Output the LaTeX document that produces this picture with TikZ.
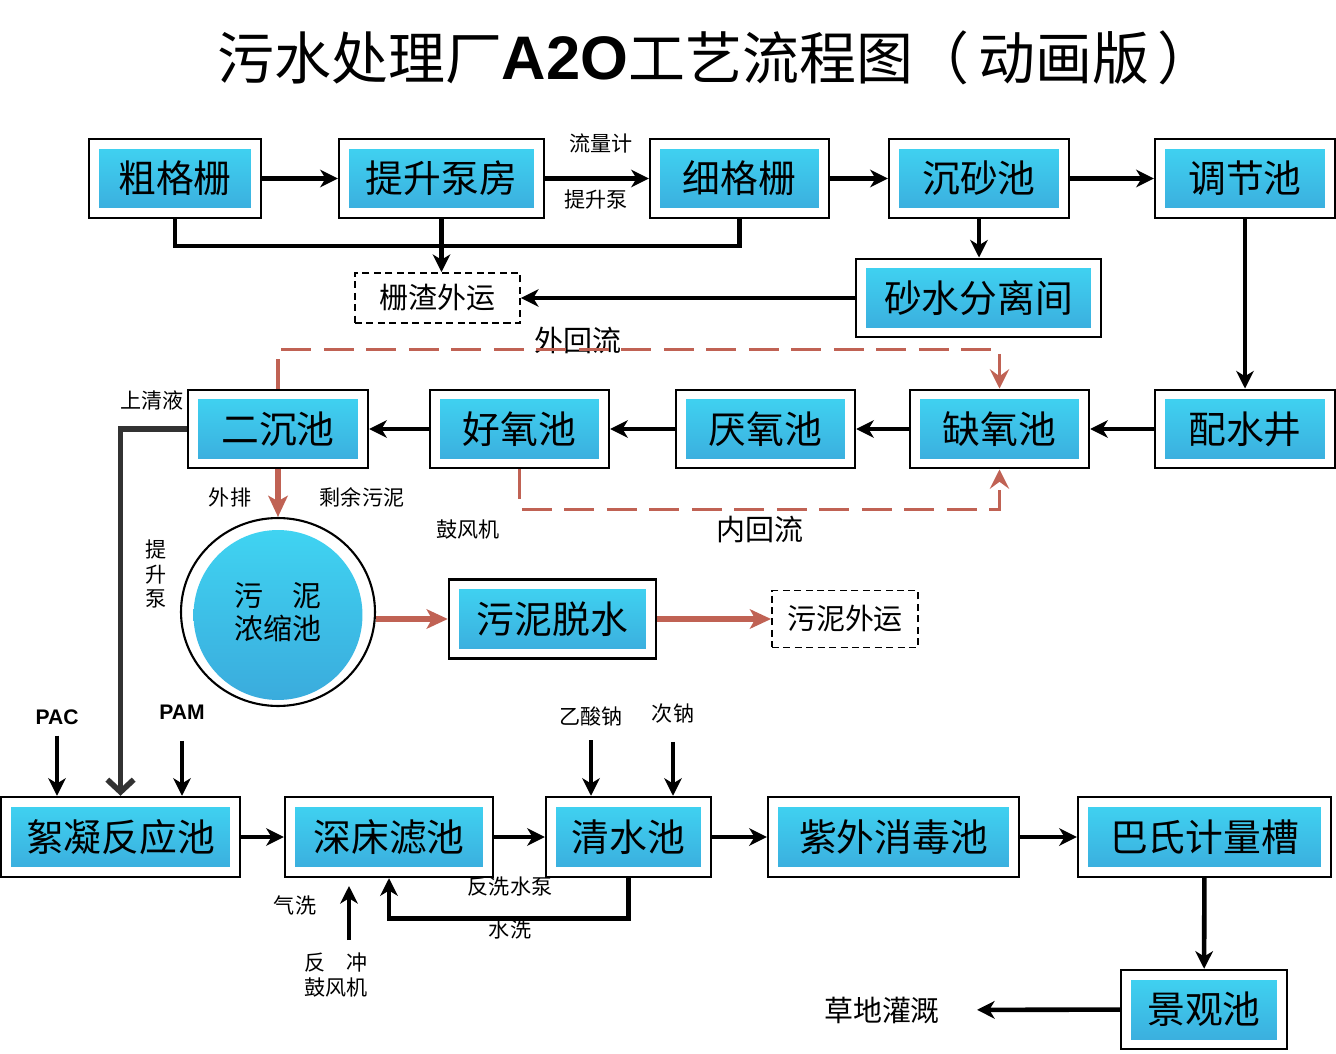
\documentclass[tikz,border=0pt]{standalone}
\usepackage{fontspec}
\setmainfont{Noto Sans CJK SC}
\newfontfamily\latfont{Liberation Sans}
\usetikzlibrary{arrows.meta,shapes.geometric}
\definecolor{tanktop}{RGB}{64,214,243}
\definecolor{tankbot}{RGB}{58,170,220}
\definecolor{flowred}{RGB}{192,98,84}
\definecolor{pipegray}{RGB}{50,50,50}

\begin{document}
\begin{tikzpicture}[x=0.02cm,y=-0.02cm,line width=2.6pt,
    tank/.style={draw,line width=1.4pt,inner sep=0pt,minimum height=1.57cm,
      font=\fontsize{21.5}{24}\selectfont,
      path picture={\shade[top color=tanktop,bottom color=tankbot]
        ([shift={(0.2cm,0.2cm)}]path picture bounding box.south west) rectangle
        ([shift={(-0.2cm,-0.2cm)}]path picture bounding box.north east);}},
    haul/.style={draw,line width=1.1pt,dash pattern=on 4pt off 2.5pt,inner sep=0pt,
      font=\fontsize{16.5}{19}\selectfont},
    note/.style={inner sep=1pt,font=\fontsize{12}{14}\selectfont},
    bignote/.style={inner sep=1pt,font=\fontsize{16.5}{19}\selectfont},
    chem/.style={inner sep=1pt,font=\latfont\bfseries\fontsize{12}{14}\selectfont},
    pipe/.style={draw=black,line width=2.6pt,-{Stealth[length=10pt,width=10pt,inset=3pt]}},
    bar/.style={draw=black,line width=2.6pt},
    redpipe/.style={draw=flowred,line width=3pt,-{Stealth[length=12pt,width=11pt,inset=3pt]}},
    backflow/.style={draw=flowred,line width=2.2pt,dash pattern=on 0.6cm off 0.25cm,
      -{Stealth[length=11pt,width=11pt,inset=4pt]}},
    graypipe/.style={draw=pipegray,line width=3.2pt,-{Straight Barb[length=7pt,width=15pt]}}]
  \pgfmathsetmacro{\ya}{178.5}
  \pgfmathsetmacro{\yb}{429}
  \pgfmathsetmacro{\yc}{837}

  \fill[white] (0,0) rectangle (1336,1054);
  \useasboundingbox (0,0) rectangle (1336,1054);

  \node (title) at (716,58) {\fontsize{32.4}{36}\selectfont 污水处理厂{\latfont\bfseries\fontsize{35}{36}\selectfont A2O}工艺流程图（\hspace{0.15em}动画版\hspace{0.15em}）};

  % pretreatment
  \node[tank,minimum width=3.44cm] (cg) at (175,\ya) {粗格栅};
  \node[tank,minimum width=4.1cm] (ts) at (441.5,\ya) {提升泵房};
  \node[tank,minimum width=3.58cm] (xg) at (739.5,\ya) {细格栅};
  \node[tank,minimum width=3.6cm] (cs) at (979,\ya) {沉砂池};
  \node[tank,minimum width=3.6cm] (tj) at (1245,\ya) {调节池};
  \node[tank,minimum width=4.9cm] (sf) at (978.5,298) {砂水分离间};
  \node[haul,minimum width=3.3cm,minimum height=1cm] (zz) at (437.5,298) {栅渣外运};

  % biological
  \node[tank,minimum width=3.6cm] (ps) at (1245,\yb) {配水井};
  \node[tank,minimum width=3.58cm] (qy) at (999.5,\yb) {缺氧池};
  \node[tank,minimum width=3.58cm] (yy) at (765.5,\yb) {厌氧池};
  \node[tank,minimum width=3.58cm] (hy) at (519.5,\yb) {好氧池};
  \node[tank,minimum width=3.6cm] (ec) at (278,\yb) {二沉池};

  % sludge
  \node[draw,ellipse,line width=1.2pt,inner sep=0pt,minimum width=3.88cm,minimum height=3.76cm,
    align=center,font=\fontsize{16.5}{19}\selectfont,
    path picture={\shade[top color=tanktop,bottom color=tankbot]
      ([yshift=-0.06cm]path picture bounding box.center) ellipse (1.69cm and 1.7cm);}]
    (nz) at (278,612) {污\quad 泥\\浓缩池};
  \node[tank,minimum width=4.14cm,minimum height=1.58cm] (tsh) at (552.5,619) {污泥脱水};
  \node[haul,minimum width=2.92cm,minimum height=1.14cm] (wwy) at (845,619) {污泥外运};

  % advanced treatment
  \node[tank,minimum width=4.78cm,minimum height=1.6cm] (xn) at (120.5,\yc) {絮凝反应池};
  \node[tank,minimum width=4.16cm,minimum height=1.6cm] (sc) at (389,\yc) {深床滤池};
  \node[tank,minimum width=3.3cm,minimum height=1.6cm] (qs) at (628.5,\yc) {清水池};
  \node[tank,minimum width=5.02cm,minimum height=1.6cm] (zw) at (893.5,\yc) {紫外消毒池};
  \node[tank,minimum width=5.06cm,minimum height=1.6cm] (bs) at (1204.5,\yc) {巴氏计量槽};
  \node[tank,minimum width=3.32cm,minimum height=1.58cm] (jg) at (1204,1009.5) {景观池};

  % labels
  \node[note] (llj) at (601,143) {流量计};
  \node[note] (tsb) at (596,200) {提升泵};
  \node[note] (sqy) at (152,400) {上清液};
  \node[note,align=center,font=\fontsize{12}{13.7}\selectfont] (tsv) at (156,574) {提\\升\\泵};
  \node[note] (wp) at (230,497) {外排};
  \node[note] (syn) at (362,497) {剩余污泥};
  \node[note] (gfj) at (468,530) {鼓风机};
  \node[bignote] (whl) at (578,340) {外回流};
  \node[bignote] (nhl) at (760,530) {内回流};
  \node[chem] (pac) at (57,717) {PAC};
  \node[chem] (pam) at (182,712) {PAM};
  \node[note] (ysn) at (591,716) {乙酸钠};
  \node[note] (cn) at (673,714) {次钠};
  \node[note] (qxl) at (295,905) {气洗};
  \node[note] (fxsb) at (510,887) {反洗水泵};
  \node[note] (sx) at (510,929) {水洗};
  \node[note,align=center] (fc) at (336,975) {反\quad 冲\\鼓风机};
  \node[bignote] (cd) at (882,1010) {草地灌溉};
  \coordinate (qx) at (349,886);

  % main flow
  \draw[pipe] (cg) -- (ts);
  \draw[pipe] (ts) -- (xg);
  \draw[pipe] (xg) -- (cs);
  \draw[pipe] (cs) -- (tj);
  \draw[bar] (cg.south) -- ++(0,27) -| (xg.south);
  \draw[pipe] (ts.south) -- (ts.south |- zz.north);
  \draw[pipe] (cs.south) -- (cs.south |- sf.north);
  \draw[pipe] (sf) -- (zz);
  \draw[pipe] (tj) -- (ps);
  \draw[pipe] (ps) -- (qy);
  \draw[pipe] (qy) -- (yy);
  \draw[pipe] (yy) -- (hy);
  \draw[pipe] (hy) -- (ec);
  \draw[backflow] (ec.north) -- ++(0,-39) -| (qy.north);
  \draw[backflow] (hy.south) -- ++(0,40) -| (qy.south);
  \draw[graypipe] (ec.west) -| (xn.north);
  \draw[redpipe] (ec.south) -- (nz.north);
  \draw[redpipe] (nz.east |- tsh) -- (tsh);
  \draw[redpipe] (tsh) -- (wwy);

  \draw[pipe,shorten <=4pt] (pac.south) -- (pac.south |- xn.north);
  \draw[pipe,shorten <=10pt] (pam.south) -- (pam.south |- xn.north);
  \draw[pipe,shorten <=6pt] (ysn.south) -- (ysn.south |- qs.north);
  \draw[pipe,shorten <=8pt] (cn.south) -- (cn.south |- qs.north);
  \draw[pipe] (xn) -- (sc);
  \draw[pipe] (sc) -- (qs);
  \draw[pipe] (qs) -- (zw);
  \draw[pipe] (zw) -- (bs);
  \draw[pipe] (qs.south) -- ++(0,40) -| (sc.south);
  \draw[pipe,shorten <=5pt] (fc.north -| qx) -- (qx);
  \draw[pipe] (bs) -- (jg);
  \draw[pipe,shorten >=0.66cm] (jg) -- (cd);
\end{tikzpicture}
\end{document}
